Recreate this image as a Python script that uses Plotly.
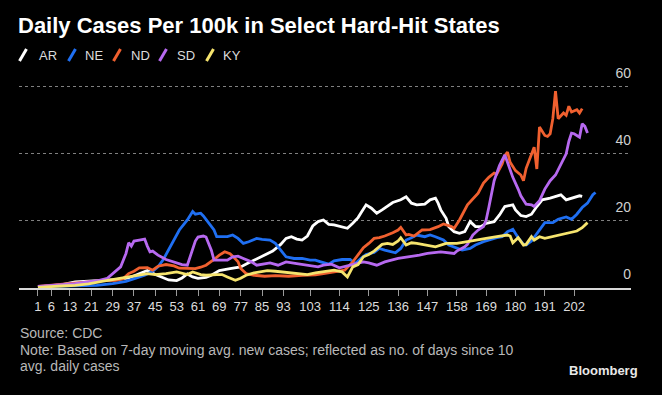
import plotly.graph_objects as go

# ---------------- data ----------------
X_TICKS = [1, 6, 13, 21, 29, 37, 45, 53, 61, 69, 77, 85, 93, 103, 114, 125, 136, 147, 158, 169, 180, 191, 202]
Y_TICKS = [0, 20, 40, 60]

AR_days = [1, 5, 10, 15, 20, 25, 30, 35, 40, 42, 45, 48, 50, 53, 55, 57, 59, 61, 64, 66,
           69, 73, 77, 80, 82, 85, 87, 89, 92, 94, 96, 98, 100, 102, 104, 106, 108, 110, 112, 115,
           117, 119, 121, 122, 124, 126, 128, 130, 132, 134, 137, 139, 141, 143, 146, 148, 150, 151, 152, 154,
           155, 157, 159, 161, 163, 165, 167, 169, 172, 174, 176, 179, 180, 182, 184, 186, 188, 190, 193, 197,
           199, 201, 204, 205]
AR_vals = [0.3, 0.6, 1.0, 1.8, 2.0, 2.3, 2.5, 3.0, 4.5, 5.2, 4.0, 3.0, 2.4, 2.2, 3.0, 4.2, 3.3, 2.9, 3.2, 3.8,
           5.2, 5.8, 6.3, 7.5, 8.3, 9.5, 10.3, 11.0, 13.0, 14.8, 15.3, 14.6, 14.3, 15.5, 18.5, 19.8, 20.3, 19.0, 18.8, 18.3,
           17.8, 19.3, 21.0, 22.3, 24.8, 23.8, 22.3, 23.3, 24.3, 25.5, 26.3, 27.2, 25.3, 24.8, 25.0, 26.3, 26.8, 25.3, 23.3, 20.8,
           18.3, 16.8, 16.3, 16.8, 19.8, 18.3, 18.3, 19.3, 19.8, 21.8, 24.3, 24.8, 23.3, 21.6, 21.3, 22.0, 24.3, 26.3, 26.8, 27.8,
           26.3, 26.8, 27.5, 27.3]

NE_days = [1, 10, 18, 23, 29, 34, 38, 41, 44, 46, 48, 50, 52, 54, 57, 59, 60, 62, 63, 65,
           67, 68, 70, 72, 74, 76, 78, 80, 83, 85, 88, 90, 92, 94, 97, 100, 103, 105, 107, 110,
           112, 115, 118, 120, 122, 124, 127, 129, 131, 133, 135, 137, 139, 141, 143, 146, 148, 150, 153, 155,
           158, 160, 163, 165, 168, 170, 173, 175, 177, 179, 181, 183, 184, 186, 188, 191, 194, 196, 199, 201,
           203, 205, 207, 209, 210]
NE_vals = [0.4, 0.5, 0.6, 0.8, 1.3, 2.0, 3.0, 3.8, 5.0, 6.3, 8.5, 11.3, 14.5, 17.3, 20.3, 22.8, 22.0, 22.3, 21.5, 19.4,
           17.3, 15.3, 15.2, 15.3, 15.8, 14.8, 13.3, 13.8, 14.8, 14.5, 14.3, 13.3, 11.3, 9.3, 8.8, 8.8, 8.3, 8.3, 7.8, 7.1,
           8.1, 8.5, 8.5, 7.3, 8.8, 10.0, 10.6, 11.8, 11.3, 11.0, 10.5, 11.8, 14.3, 15.0, 15.8, 15.3, 15.8, 15.3, 14.3, 12.8,
           11.8, 11.3, 11.8, 12.8, 13.8, 14.3, 15.0, 15.3, 16.8, 17.5, 15.0, 13.0, 12.8, 14.0, 16.3, 19.5, 19.5, 20.5, 21.2, 20.5,
           22.0, 24.0, 25.3, 27.8, 28.5]

ND_days = [1, 5, 10, 15, 20, 25, 30, 33, 35, 37, 39, 42, 44, 46, 49, 52, 54, 57, 60, 62,
           64, 67, 69, 71, 73, 74, 76, 77, 79, 82, 86, 90, 95, 100, 105, 108, 112, 116, 119, 121,
           123, 125, 127, 129, 131, 134, 136, 137, 139, 140, 142, 145, 148, 151, 153, 156, 157, 159, 161, 162,
           166, 168, 170, 172, 173, 175, 176, 177, 178, 180, 182, 183, 184, 186, 187, 188, 189, 191, 192, 193,
           194, 195, 196, 198, 199, 200, 201, 203, 204, 205]
ND_vals = [0.5, 0.8, 1.2, 1.5, 2.0, 2.2, 2.3, 2.8, 4.3, 5.0, 6.0, 6.1, 5.3, 6.5, 7.0, 6.6, 5.9, 5.8, 5.8, 6.2,
           6.8, 8.5, 9.8, 10.8, 10.2, 9.5, 7.8, 5.8, 4.3, 3.8, 3.5, 3.7, 3.5, 3.8, 3.9, 4.3, 4.8, 5.3, 7.8, 9.8,
           12.0, 13.3, 14.8, 15.0, 15.5, 16.5, 17.3, 18.1, 15.8, 16.0, 15.5, 17.3, 17.4, 18.3, 19.1, 18.3, 17.8, 20.3, 23.3, 24.8,
           28.3, 31.3, 33.0, 34.3, 34.0, 37.0, 39.5, 40.5, 37.5, 35.0, 33.7, 32.0, 35.7, 40.0, 42.0, 35.5, 48.0, 45.5, 45.2, 46.0,
           50.5, 58.7, 50.5, 52.2, 51.5, 54.2, 52.5, 53.2, 52.2, 53.5]

SD_days = [1, 5, 10, 15, 20, 24, 27, 30, 32, 34, 35, 36, 37, 39, 41, 42, 43, 44, 46, 49,
           52, 55, 57, 59, 60, 61, 63, 64, 66, 67, 70, 72, 74, 76, 78, 81, 83, 86, 88, 91,
           94, 98, 102, 106, 108, 111, 114, 117, 120, 123, 125, 128, 131, 136, 141, 144, 147, 152, 157, 158,
           161, 162, 164, 166, 168, 169, 170, 172, 174, 175, 176, 177, 179, 181, 182, 184, 186, 187, 189, 191,
           193, 195, 197, 199, 200, 201, 202, 204, 205, 206, 207]
SD_vals = [0.5, 0.8, 1.0, 1.3, 1.8, 2.3, 2.9, 5.0, 6.3, 10.3, 13.5, 12.5, 14.0, 14.3, 14.6, 12.5, 10.8, 11.0, 9.8, 8.5,
           7.8, 7.0, 6.8, 11.3, 14.0, 15.2, 15.5, 15.2, 11.3, 8.3, 8.3, 8.3, 9.3, 9.5, 8.8, 7.8, 6.8, 7.3, 7.5, 6.8,
           7.8, 7.3, 6.8, 6.3, 6.8, 7.1, 6.0, 6.5, 7.2, 7.8, 7.5, 6.8, 7.8, 8.8, 9.3, 9.8, 10.3, 10.8, 10.3, 11.0,
           12.3, 13.0, 15.8, 17.3, 18.3, 20.3, 24.0, 32.0, 36.5, 38.2, 39.7, 37.5, 33.0, 29.5, 27.5, 25.0, 24.8, 24.3, 26.0, 29.5,
           32.0, 33.7, 37.0, 40.0, 43.7, 46.2, 46.0, 45.0, 49.0, 48.2, 46.2]

KY_days = [1, 5, 10, 15, 20, 25, 29, 32, 36, 40, 42, 45, 49, 53, 57, 59, 62, 64, 68, 70,
           72, 75, 77, 79, 82, 85, 87, 90, 92, 94, 98, 102, 105, 108, 112, 115, 117, 119, 121, 123,
           125, 127, 129, 130, 132, 134, 136, 137, 139, 141, 143, 147, 150, 154, 158, 162, 165, 169, 173, 175,
           177, 178, 179, 181, 183, 184, 186, 187, 189, 191, 194, 197, 200, 203, 205, 207]
KY_vals = [0.2, 0.3, 0.6, 0.8, 1.2, 2.0, 2.5, 2.8, 3.3, 4.0, 4.3, 4.0, 4.3, 4.8, 4.0, 4.8, 4.0, 3.8, 4.0, 4.0,
           3.3, 2.3, 2.9, 3.8, 4.5, 5.0, 5.2, 5.0, 4.8, 4.6, 4.3, 4.0, 4.5, 4.8, 5.3, 4.8, 3.3, 6.3, 7.0, 9.3,
           10.0, 11.0, 12.5, 13.0, 13.3, 13.0, 14.0, 15.0, 12.8, 13.5, 13.3, 12.8, 12.3, 13.3, 13.3, 13.8, 14.3, 14.8, 15.3, 15.5,
           15.8, 15.5, 13.5, 15.0, 12.8, 13.0, 15.3, 14.3, 15.3, 14.8, 15.3, 15.8, 16.5, 17.0, 18.0, 19.5]

SERIES = [
    ("AR", AR_days, AR_vals, "#ffffff"),
    ("NE", NE_days, NE_vals, "#1f6ff2"),
    ("ND", ND_days, ND_vals, "#f0602f"),
    ("SD", SD_days, SD_vals, "#b769f0"),
    ("KY", KY_days, KY_vals, "#f6e46e"),
]

# ---------------- layout geometry ----------------
Y_MAX = 68
W, H = 662, 395
L, R, B = 19, 31, 107
UNIT = 201 / 60.0                      # px per unit, from reference gridlines
T = int(round((H - B) - Y_MAX * UNIT))
PW, PH = W - L - R, H - T - B


def px(x):
    return (x - L) / PW


def py(y):
    return (H - B - y) / PH


FONT = "Liberation Sans, Arial, sans-serif"

fig = go.Figure()
for name, d, v, c in SERIES:
    fig.add_trace(go.Scatter(x=d, y=v, mode="lines", name=name,
                             line=dict(color=c, width=2.8), showlegend=False,
                             hoverinfo="skip"))

shapes = []
annotations = []

# custom legend with slanted swatches
legend_pos = [(23, 37), (72, 83), (117, 129), (163, 175), (210, 221)]
for (name, _, _, c), (sx, tx) in zip(SERIES, legend_pos):
    shapes.append(dict(type="line", xref="paper", yref="paper",
                       x0=px(sx - 3.5), y0=py(61), x1=px(sx + 3.5), y1=py(49),
                       line=dict(color=c, width=3)))
    annotations.append(dict(text=name, xref="paper", yref="paper", x=px(tx), y=py(55),
                            xanchor="left", yanchor="middle", showarrow=False,
                            font=dict(family=FONT, size=13, color="#dcdcdc")))

# footer
foot_font = dict(family=FONT, size=14, color="#b8b8b8")
for txt, yy in [("Source: CDC", 333),
                ("Note: Based on 7-day moving avg. new cases; reflected as no. of days since 10", 350),
                ("avg. daily cases", 366)]:
    annotations.append(dict(text=txt, xref="paper", yref="paper", x=px(18), y=py(yy),
                            xanchor="left", yanchor="middle", showarrow=False, font=foot_font))
annotations.append(dict(text="<b>Bloomberg</b>", xref="paper", yref="paper", x=px(640), y=py(370),
                        xanchor="right", yanchor="middle", showarrow=False,
                        font=dict(family=FONT, size=13, color="#e8e8e8")))

fig.update_layout(
    width=W, height=H,
    margin=dict(l=L, r=R, t=T, b=B, pad=0),
    paper_bgcolor="#000000", plot_bgcolor="#000000",
    title=dict(text="<b>Daily Cases Per 100k in Select Hard-Hit States</b>",
               x=18 / W, xref="container", xanchor="left",
               y=1 - 25 / H, yref="container", yanchor="middle",
               font=dict(family=FONT, size=22, color="#ffffff")),
    xaxis=dict(range=[-6.1, 223.3], tickvals=X_TICKS, ticktext=[str(t) for t in X_TICKS],
               showgrid=False, zeroline=False, showline=True, linecolor="#d8d8d8", linewidth=1.5,
               ticks="outside", ticklen=6, tickcolor="#9a9a9a", tickwidth=1, automargin=False,
               tickfont=dict(family=FONT, size=13, color="#dcdcdc")),
    yaxis=dict(range=[0, Y_MAX], tickvals=Y_TICKS, side="right",
               ticklabelposition="inside top", ticks="", automargin=False,
               showgrid=True, gridcolor="#808080", griddash="dot", gridwidth=1,
               zeroline=False, showline=False,
               tickfont=dict(family=FONT, size=14, color="#d0d0d0")),
    shapes=shapes,
    annotations=annotations,
)

try:
    fig.update_yaxes(ticklabelshift=-4)
except Exception:
    pass
try:
    fig.update_yaxes(ticklabelstandoff=-3)
except Exception:
    pass

fig.write_html("out.html", config={"displayModeBar": False},
               post_script="document.body.style.margin='0px';document.body.style.background='#000';")
